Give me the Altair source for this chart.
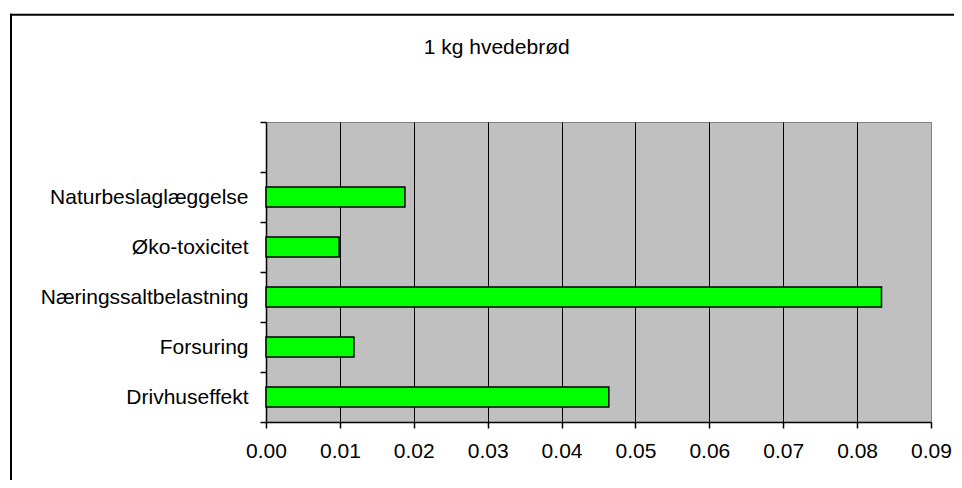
import altair as alt
import pandas as pd

# ---- data ----
categories = ["Drivhuseffekt", "Forsuring", "Næringssaltbelastning", "Øko-toxicitet", "Naturbeslaglæggelse"]
values = [0.0464, 0.0119, 0.0833, 0.0099, 0.0188]
x_ticks = [0.00, 0.01, 0.02, 0.03, 0.04, 0.05, 0.06, 0.07, 0.08, 0.09]
title_text = "1 kg hvedebrød"

FONT = "Liberation Sans"
FS = 21

df = pd.DataFrame({"kategori": categories, "vaerdi": values})
# top slot is empty in the original chart
y_domain = [""] + categories[::-1]

bars = alt.Chart(df).mark_bar(
    height=alt.RelativeBandSize(band=0.4),
    color="#00FF00",
    stroke="black",
    strokeWidth=1.5,
).encode(
    x=alt.X(
        "vaerdi:Q",
        scale=alt.Scale(domain=[0, 0.09], nice=False, zero=True),
        axis=alt.Axis(
            values=x_ticks,
            format=".2f",
            title=None,
            grid=True,
            gridColor={"condition": {"test": "datum.value > 0.085", "value": "#808080"}, "value": "black"},
            gridWidth=1,
            gridOpacity=1,
            domainColor="black",
            domainWidth=1.5,
            tickColor="black",
            tickSize=6,
            tickWidth=1.5,
            labelFont=FONT,
            labelFontSize=FS,
            labelColor="black",
            labelPadding=12,
            labelFlush=False,
        ),
    ),
    y=alt.Y(
        "kategori:N",
        scale=alt.Scale(domain=y_domain, paddingInner=0, paddingOuter=0),
        axis=alt.Axis(
            title=None,
            grid=False,
            tickBand="extent",
            domainColor="black",
            domainWidth=1.5,
            tickColor="black",
            tickSize=6,
            tickWidth=1.5,
            labelFont=FONT,
            labelFontSize=FS,
            labelColor="black",
            labelPadding=12,
            labelLimit=400,
        ),
    ),
)

one = pd.DataFrame({"k": [0]})

frame_left = alt.Chart(one).mark_rule(color="black", strokeWidth=2).encode(
    x=alt.value(-255), y=alt.value(-108.3), y2=alt.value(358)
)
frame_top = alt.Chart(one).mark_rule(color="black", strokeWidth=2).encode(
    y=alt.value(-107.3), x=alt.value(-256), x2=alt.value(688)
)

title = alt.Chart(one).mark_text(
    font=FONT, fontSize=FS, color="black", align="center", baseline="alphabetic"
).encode(
    x=alt.value(230.7), y=alt.value(-67.7), text=alt.value(title_text)
)

chart = alt.layer(bars, frame_left, frame_top, title).properties(
    width=665,
    height=300,
    autosize="none",
    padding={"left": 258, "top": 114, "right": 23, "bottom": 58},
    background="white",
).configure_view(
    fill="#C0C0C0",
    stroke="#808080",
    strokeWidth=1,
)

chart.save("out.html", embed_options={"renderer": "svg", "actions": False})
